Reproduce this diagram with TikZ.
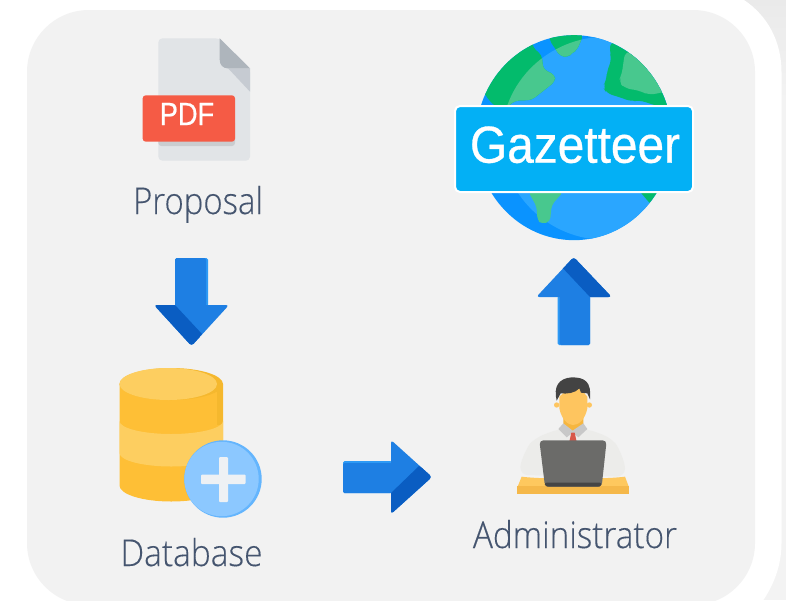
\documentclass[tikz,border=0pt]{standalone}
\usepackage{fontspec}
\setmainfont{Open Sans}[UprightFont=* Light,UprightFeatures={FakeBold=0.25}]
\newfontfamily\labelsans[FakeBold=.6]{Liberation Sans}
\definecolor{panel}{HTML}{F2F2F2}
\definecolor{edgegrey}{HTML}{EAEAEA}
\definecolor{edgelow}{HTML}{F3F3F3}
\definecolor{inktext}{HTML}{45556F}
\definecolor{docbody}{HTML}{E1E4E7}
\definecolor{docfold}{HTML}{AEB5BC}
\definecolor{docshade}{HTML}{C6CBD2}
\definecolor{pdfred}{HTML}{F55B45}
\definecolor{arrowblue}{HTML}{1E7FE3}
\definecolor{arrowdark}{HTML}{0A5DC2}
\definecolor{arrowlight}{HTML}{2E9AF5}
\definecolor{dbdark}{HTML}{FEBF36}
\definecolor{dblight}{HTML}{FDCE60}
\definecolor{dbside}{HTML}{F5B82E}
\definecolor{plusblue}{HTML}{8CC8FF}
\definecolor{plusrim}{HTML}{64B5FD}
\definecolor{plusbar}{HTML}{EEF1F4}
\definecolor{ocean}{HTML}{2AA6FF}
\definecolor{oceandark}{HTML}{0A93FF}
\definecolor{landlight}{HTML}{48C88E}
\definecolor{landdark}{HTML}{03BB6C}
\definecolor{badge}{HTML}{03B0F5}
\definecolor{skin}{HTML}{FEC55F}
\definecolor{skindark}{HTML}{F6B63F}
\definecolor{hair}{HTML}{434343}
\definecolor{collar}{HTML}{C8C8C8}
\definecolor{tie}{HTML}{D8574A}
\definecolor{shirt}{HTML}{ECECEA}
\definecolor{laptop}{HTML}{6B6B69}
\definecolor{laptopdark}{HTML}{454545}
\definecolor{desktop}{HTML}{FEC85E}
\definecolor{deskfront}{HTML}{F5B84A}
\tikzset{
  caption/.style={anchor=base,inner sep=0pt,text=inktext,font=\fontsize{37}{37}\selectfont},
}
\begin{document}
\begin{tikzpicture}[x=1pt,y=-1pt]
\useasboundingbox (0,0) rectangle (786,600);
% page background
\fill[white] (0,0) rectangle (786,600);
\fill[edgelow] (735,100) rectangle (786,600);
\shade[top color=edgegrey,bottom color=edgelow] (735,0) rectangle (786,100.5);
\fill[white] (0,-2) -- (744,-2) -- (744,0)
  .. controls (768,16) and (781.5,42) .. (781.5,72) -- (781.5,543)
  .. controls (781.5,565) and (774,585) .. (762,602) -- (0,602) -- cycle;
% panel
\fill[panel,rounded corners=62pt] (27,10) rectangle (755,605);
% document icon
\begin{scope}[shift={(100,20)},scale=1/3]
  \fill[docbody,rounded corners=4pt] (175,55) -- (359,55) -- (450,145) -- (450,422) -- (175,422) -- cycle;
  \fill[docshade] (359,118) -- (380,145) -- (450,145) -- (450,215) -- cycle;
  \path[fill=docfold] (359,55) -- (450,145) -- (385,145) .. controls (368,145) and (359,135) .. (359,118) -- cycle;
  \fill[black!10!docbody,rounded corners=3pt] (175,300) rectangle (405,378);
  \fill[pdfred,rounded corners=3pt] (128,226) rectangle (405,365);
  \node[anchor=base,inner sep=0pt,text=white] (pdf) at (261,315)
    {\labelsans\fontsize{32}{32}\selectfont\scalebox{.85}[1]{PDF}};
\end{scope}
\node[caption] (proposal) at (198,214) {\scalebox{.89}[1]{Proposal}};
% arrow down
\fill[arrowlight,rounded corners=1.5pt] (175,258) -- (208,258) -- (208,306) -- (175,306) -- cycle;
\fill[arrowblue,rounded corners=1.5pt] (175,258) -- (206,258) -- (206,306) -- (175,306) -- cycle;
\fill[arrowblue,rounded corners=3pt] (154,305) -- (229,305) -- (191.5,346) -- cycle;
\begin{scope}
  \clip[rounded corners=3pt] (154,305) -- (229,305) -- (191.5,346) -- cycle;
  \fill[arrowdark] (150,305) -- (175,305) -- (202,334) -- (190,350) -- (150,350) -- cycle;
\end{scope}
% database
\fill[dbdark] (119.5,384) -- (119.5,485.5) arc[start angle=180,end angle=0,x radius=51.75,y radius=16] -- (223,384) -- cycle;
\fill[dbside] (217,384) rectangle (223,425);
\fill[dblight] (119.5,421) arc[start angle=180,end angle=0,x radius=51.75,y radius=13]
  -- (223,453) arc[start angle=0,end angle=180,x radius=51.75,y radius=13.5] -- cycle;
\fill[dbside] (171.25,384) ellipse[x radius=51.75,y radius=16];
\fill[dblight] (168.25,384) ellipse[x radius=48.75,y radius=16];
\fill[plusrim] (223,479) circle[radius=38.7];
\fill[plusblue] (221.5,479) circle[radius=37.2];
\fill[plusbar,rounded corners=1pt] (201,474.5) rectangle (245.7,484);
\fill[plusbar,rounded corners=1pt] (219,457) rectangle (228,502);
\node[caption] (database) at (191.5,566) {\scalebox{.905}[1]{Database}};
% arrow right
\fill[arrowlight,rounded corners=1.5pt] (343,461) rectangle (392,493);
\fill[arrowblue,rounded corners=1.5pt] (343,463) rectangle (392,493);
\fill[arrowblue,rounded corners=3pt] (391,440) -- (432,477) -- (391,514) -- cycle;
\begin{scope}
  \clip[rounded corners=3pt] (391,440) -- (432,477) -- (391,514) -- cycle;
  \fill[arrowdark] (419,466) -- (391,493) -- (385,520) -- (440,520) -- (440,477) -- cycle;
\end{scope}
% arrow up
\fill[arrowlight,rounded corners=1.5pt] (557.7,296) rectangle (590,345);
\fill[arrowblue,rounded corners=1.5pt] (559.5,296) rectangle (590,345);
\fill[arrowblue,rounded corners=3pt] (573.7,257) -- (611.7,297) -- (536.3,297) -- cycle;
\begin{scope}
  \clip[rounded corners=3pt] (573.7,257) -- (611.7,297) -- (536.3,297) -- cycle;
  \fill[arrowdark] (562.7,268) -- (590,297) -- (615,297) -- (615,250) -- (570,250) -- cycle;
\end{scope}
% globe
\begin{scope}[shift={(440,20)},scale=1/3]
  \fill[oceandark] (402,353) ellipse[x radius=294,y radius=307.5];
  \begin{scope}
    \clip (402,353) ellipse[x radius=294,y radius=307.5];
    \fill[ocean] (500,355) ellipse[x radius=315,y radius=305];
    \fill[landdark,rounded corners=4pt] (278,82) -- (305,105) -- (310,148) -- (345,165) -- (345,185) -- (275,240) -- (225,242) -- (190,270) -- (160,255) -- (135,225) -- (100,100) -- (278,40) -- cycle;
    \fill[landdark,rounded corners=4pt] (328,60) -- (345,85) -- (360,108) -- (385,112) -- (395,98) -- (410,92) -- (430,45) -- (400,20) -- (330,20) -- cycle;
    \fill[landdark,rounded corners=6pt] (510,65) -- (510,100) -- (515,120) -- (500,155) -- (500,180) -- (488,200) -- (500,220) -- (540,232) -- (575,245) -- (600,240) -- (625,250) -- (700,270) -- (720,100) -- (560,65) -- cycle;
    \fill[landdark] (600,515) -- (628,548) -- (680,515) -- cycle;
    \fill[landlight,rounded corners=6pt] (555,95) -- (550,130) -- (545,165) -- (535,185) -- (555,205) -- (600,212) -- (625,225) -- (665,218) -- (720,200) -- (650,90) -- cycle;
    \begin{scope}
      \clip (500,355) ellipse[x radius=315,y radius=305];
      \fill[landlight,rounded corners=4pt] (278,82) -- (305,105) -- (310,148) -- (345,165) -- (345,185) -- (275,240) -- (225,242) -- (190,270) -- (160,255) -- (135,225) -- (100,100) -- (278,40) -- cycle;
      \fill[landlight,rounded corners=4pt] (328,60) -- (345,85) -- (360,108) -- (385,112) -- (395,98) -- (410,92) -- (430,45) -- (400,20) -- (330,20) -- cycle;
    \end{scope}
    \fill[landlight,rounded corners=4pt] (265,515) -- (290,560) -- (292,600) -- (305,612) -- (330,605) -- (335,555) -- (370,515) -- cycle;
  \end{scope}
\end{scope}
\node[draw=white,line width=2pt,fill=badge,rounded corners=5pt,minimum width=238pt,minimum height=86pt,inner sep=0pt] (gazetteer) at (574,149) {};
\node[anchor=base,inner sep=0pt,text=white] (gazettext) at (575,162.7)
  {\labelsans\fontsize{52}{52}\selectfont\scalebox{.92}[1]{Gazetteer}};
% administrator
\begin{scope}[shift={(500,360)},scale=1/3]
  \fill[shirt,rounded corners=8pt] (60,345) .. controls (62,300) and (85,255) .. (110,232) -- (175,207) -- (262,207) -- (330,232) .. controls (355,260) and (375,305) .. (375,350) -- cycle;
  \fill[skin] (170,135) circle[radius=8];
  \fill[skin] (268,135) circle[radius=8];
  \fill[skindark] (190,170) -- (250,170) -- (250,195) -- (220,215) -- (190,195) -- cycle;
  \fill[collar] (175,207) -- (190,190) -- (218,212) -- (250,190) -- (262,207) -- (235,232) -- (218,218) -- (200,232) -- cycle;
  \fill[tie] (214,218) -- (224,218) -- (230,245) -- (208,245) -- cycle;
  \fill[skin] (178,110) -- (178,145) .. controls (185,180) and (205,195) .. (219,195) .. controls (235,195) and (255,180) .. (262,145) -- (262,110) -- (240,85) -- (195,95) -- cycle;
  \fill[hair] (170,122) .. controls (160,80) and (175,55) .. (215,52) .. controls (255,52) and (275,65) .. (270,118)
    -- (262,100) -- (243,98) -- (238,85) .. controls (225,100) and (200,102) .. (182,100) -- cycle;
  \fill[desktop] (65,350) .. controls (120,358) and (320,358) .. (375,350) -- (387,382) -- (52,382) -- cycle;
  \fill[deskfront] (52,379) rectangle (387,401);
  \fill[laptop,rounded corners=4pt] (118,241) -- (320,241) -- (305,380) -- (135,380) -- cycle;
  \fill[laptopdark,rounded corners=2pt] (134,368) -- (305,368) -- (304,380) -- (135,380) -- cycle;
\end{scope}
\node[caption] (admin) at (575,548) {\scalebox{.9}[1]{Administrator}};
\end{tikzpicture}
\end{document}
